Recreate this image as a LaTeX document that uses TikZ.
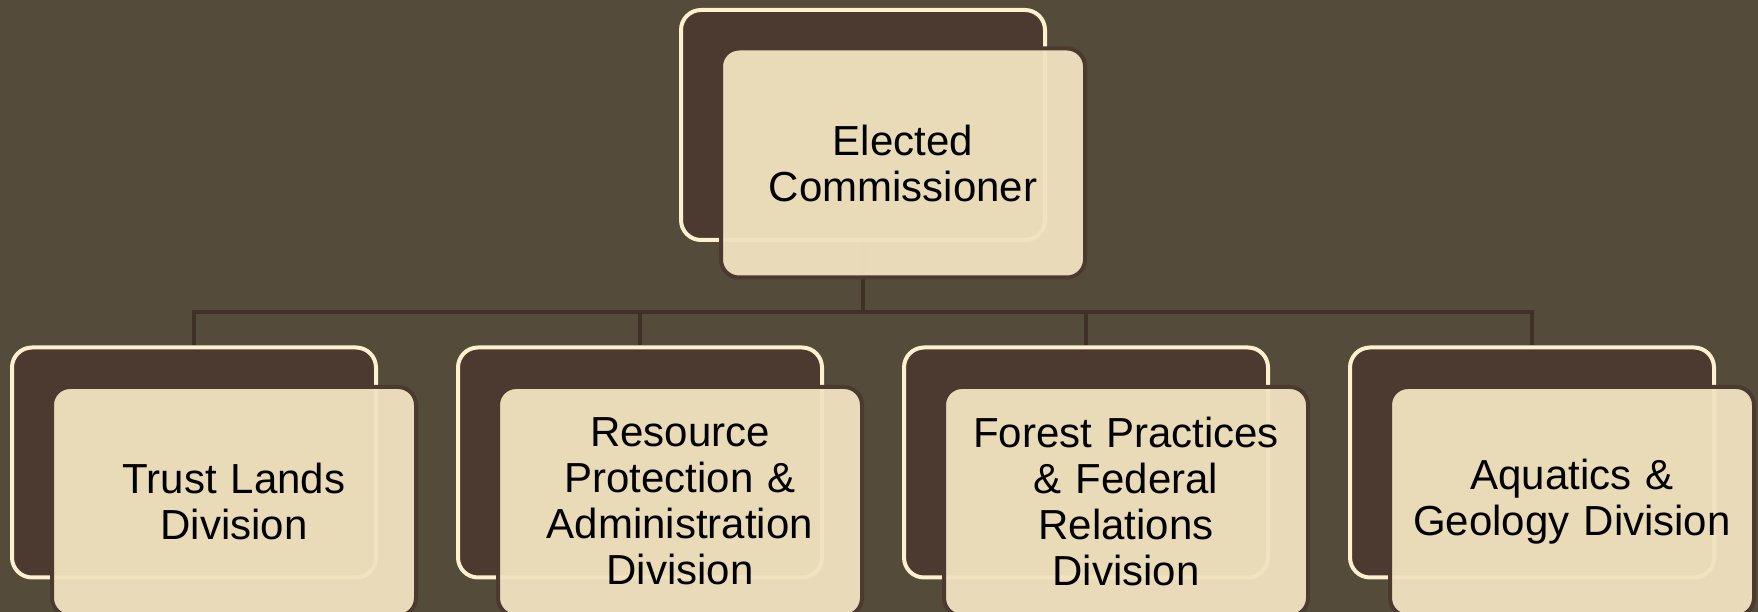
\documentclass[tikz,border=0pt]{standalone}
\usepackage{fontspec}
\setmainfont{Liberation Sans}
\usetikzlibrary{positioning}
\definecolor{bgolive}{RGB}{84,75,58}
\definecolor{darkbrown}{RGB}{76,58,48}
\definecolor{cream}{RGB}{253,241,206}
\definecolor{beige}{RGB}{242,227,192}
\definecolor{linkbrown}{RGB}{64,49,39}
\pgfdeclarelayer{bg}
\pgfsetlayers{bg,main}
\begin{document}
\begin{tikzpicture}[x=1pt,y=1pt,
	backbox/.style={draw=cream,fill=darkbrown,line width=4pt,rounded corners=20pt,minimum width=364pt,minimum height=230pt,inner sep=0pt},
	frontbox/.style={draw=darkbrown,fill=beige,fill opacity=0.95,text opacity=1,line width=4pt,rounded corners=18pt,minimum width=364pt,minimum height=229pt,inner sep=0pt,text width=356pt,align=center,font=\fontsize{42}{46}\selectfont},
	link/.style={draw=linkbrown,line width=4pt}]
	\useasboundingbox (0,0) rectangle (1758,612);
	\coordinate (bus) at (863,300);
	% head of the chart
	\node[backbox] (top) at (863,487) {};
	\node[frontbox] (topf) at ([shift={(40,-38)}]top.center) {Elected\\Commissioner};
	% divisions
	\foreach \i/\x/\txt in {1/194/{Trust Lands\\Division},2/640/{Resource\\Protection \&\\Administration\\Division},3/1086/{Forest Practices\\\& Federal\\Relations\\Division},4/1532/{Aquatics \&\\Geology Division}}{
		\node[backbox] (div\i) at (\x,149.5) {};
		\node[frontbox] (div\i f) at ([shift={(40,-39)}]div\i.center) {\txt};
	}
	\begin{pgfonlayer}{bg}
		\fill[bgolive] (0,0) rectangle (1758,612);
		\draw[link] (top.south) -- (bus);
		\foreach \i in {1,...,4} \draw[link] (div\i.north) |- (bus);
	\end{pgfonlayer}
\end{tikzpicture}
\end{document}
